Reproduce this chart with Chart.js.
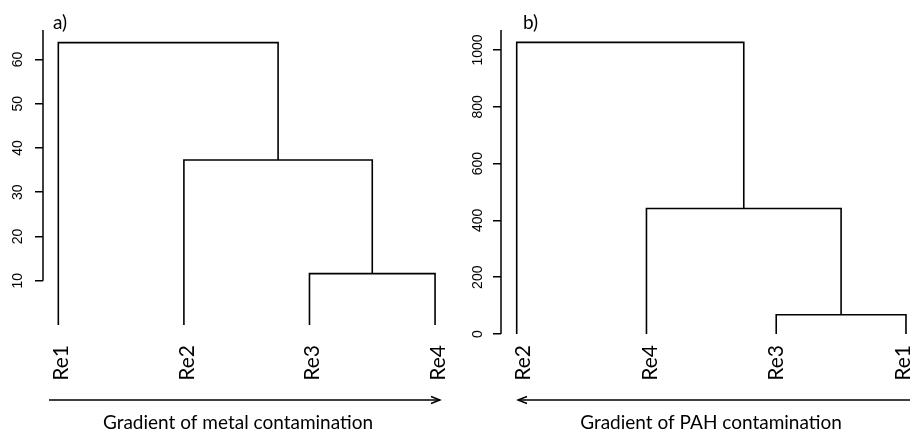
<!DOCTYPE html>
<html>
<head>
<meta charset="utf-8">
<script src="https://cdn.jsdelivr.net/npm/chart.js@4"></script>
<style>
  body { margin: 0; background: #fff; }
  #wrap { position: relative; width: 910px; height: 432px; }
  canvas { position: absolute; top: 0; }
</style>
</head>
<body>
<div id="wrap">
  <canvas id="metal" width="455" height="432" style="left:0"></canvas>
  <canvas id="pah" width="455" height="432" style="left:455px"></canvas>
</div>
<script>
// leaf order as drawn, merge steps (negative = leaf position, positive = earlier step), merge heights
const metalLeaves = ['Re1', 'Re2', 'Re3', 'Re4'];
const metalMerge = [[-3, -4], [-2, 1], [-1, 2]];
const metalHeight = [11.6, 37.3, 63.8];
const metalTicks = [10, 20, 30, 40, 50, 60];

const pahLeaves = ['Re2', 'Re4', 'Re3', 'Re1'];
const pahMerge = [[-3, -4], [-2, 1], [-1, 2]];
const pahHeight = [68, 442, 1027];
const pahTicks = [0, 200, 400, 600, 800, 1000];

// turn merge table into one 4-point line per merge
function dendroSegments(merge, height) {
    let nodeX = [], nodeH = []
    const pos = ref => ref < 0 ? [-ref, 0] : [nodeX[ref - 1], nodeH[ref - 1]]
    return merge.map((pair, i) => {
        let [xl, hl] = pos(pair[0])
        let [xr, hr] = pos(pair[1])
        nodeX[i] = (xl + xr) / 2
        nodeH[i] = height[i]
        return {
            data: [{x: xl, y: hl}, {x: xl, y: height[i]}, {x: xr, y: height[i]}, {x: xr, y: hr}],
            borderColor: '#000',
            borderWidth: 1.6,
            pointRadius: 0,
            tension: 0,
            fill: false
        }
    })
}

const decor = {
    id: 'decor',
    afterDraw(chart, args, o) {
        const {ctx, chartArea, scales: {x, y}} = chart;
        ctx.save();
        ctx.strokeStyle = '#000';
        ctx.fillStyle = '#000';
        ctx.lineWidth = 1.5;
        // y axis line from lowest tick to top
        ctx.beginPath();
        ctx.moveTo(chartArea.left, y.getPixelForValue(y.ticks[0].value));
        ctx.lineTo(chartArea.left, chartArea.top);
        ctx.stroke();
        // rotated y tick labels
        ctx.font = '14px "Liberation Sans", Arial, sans-serif';
        ctx.textAlign = 'center';
        ctx.textBaseline = 'middle';
        y.ticks.forEach(t => {
            ctx.save();
            ctx.translate(chartArea.left - o.tickLabelGap, y.getPixelForValue(t.value));
            ctx.rotate(-Math.PI / 2);
            ctx.fillText(String(t.value), 0, 0);
            ctx.restore();
        });
        // leaf labels
        ctx.font = '21px Lato, "Open Sans", sans-serif';
        ctx.textAlign = 'right';
        o.leaves.forEach((name, i) => {
            ctx.save();
            ctx.translate(x.getPixelForValue(i + 1) + o.labelShift + o.labelSlope * i, 345);
            ctx.rotate(-Math.PI / 2);
            ctx.fillText(name, 0, 0);
            ctx.restore();
        });
        // panel letter
        ctx.font = '19px Lato, "Open Sans", sans-serif';
        ctx.textAlign = 'left';
        ctx.textBaseline = 'alphabetic';
        ctx.fillText(o.letter, o.letterX, 29);
        // gradient arrow
        let [a0, a1] = o.arrow;
        ctx.lineWidth = 1.4;
        ctx.beginPath();
        ctx.moveTo(a0, 400);
        ctx.lineTo(a1, 400);
        ctx.stroke();
        let dir = Math.sign(a1 - a0);
        ctx.beginPath();
        ctx.moveTo(a1 - dir * 9, 396.5);
        ctx.lineTo(a1, 400);
        ctx.lineTo(a1 - dir * 9, 403.5);
        ctx.stroke();
        ctx.font = '19px Lato, "Open Sans", sans-serif';
        ctx.textAlign = 'center';
        ctx.textBaseline = 'middle';
        ctx.fillText(o.caption, o.captionX, 423);
        ctx.restore();
    }
};

function makeDendro(id, leaves, merge, height, ticks, cfg) {
    return new Chart(document.getElementById(id), {
        type: 'line',
        data: {datasets: dendroSegments(merge, height)},
        plugins: [decor],
        options: {
            responsive: false,
            animation: false,
            layout: {padding: {top: 30, bottom: cfg.padBottom, left: 0, right: cfg.padRight}},
            scales: {
                x: {type: 'linear', min: cfg.xMin, max: cfg.xMax, display: false},
                y: {
                    min: 0, max: cfg.yMax,
                    afterBuildTicks: s => { s.ticks = ticks.map(v => ({value: v})) },
                    afterFit: s => { s.width = cfg.axisX },
                    ticks: {display: false},
                    border: {display: false},
                    grid: {drawOnChartArea: false, drawTicks: true, tickLength: 8, color: '#000', lineWidth: 1.5}
                }
            },
            plugins: {
                legend: {display: false},
                tooltip: {enabled: false},
                decor: cfg.decor
            }
        }
    });
}

makeDendro('metal', metalLeaves, metalMerge, metalHeight, metalTicks, {
    padBottom: 107, padRight: 5, axisX: 43, xMin: 0.878, xMax: 4.119, yMax: 66.66,
    decor: {leaves: metalLeaves, tickLabelGap: 25, letter: 'a)', letterX: 53, labelShift: 3, labelSlope: 0,
        arrow: [49, 440], caption: 'Gradient of metal contamination', captionX: 238}
});
makeDendro('pah', pahLeaves, pahMerge, pahHeight, pahTicks, {
    padBottom: 98, padRight: 0, axisX: 46, xMin: 0.879, xMax: 4.031, yMax: 1070.4,
    decor: {leaves: pahLeaves, tickLabelGap: 23, letter: 'b)', letterX: 68, labelShift: 7, labelSlope: -3.3,
        arrow: [456, 63], caption: 'Gradient of PAH contamination', captionX: 256}
});
</script>
</body>
</html>
